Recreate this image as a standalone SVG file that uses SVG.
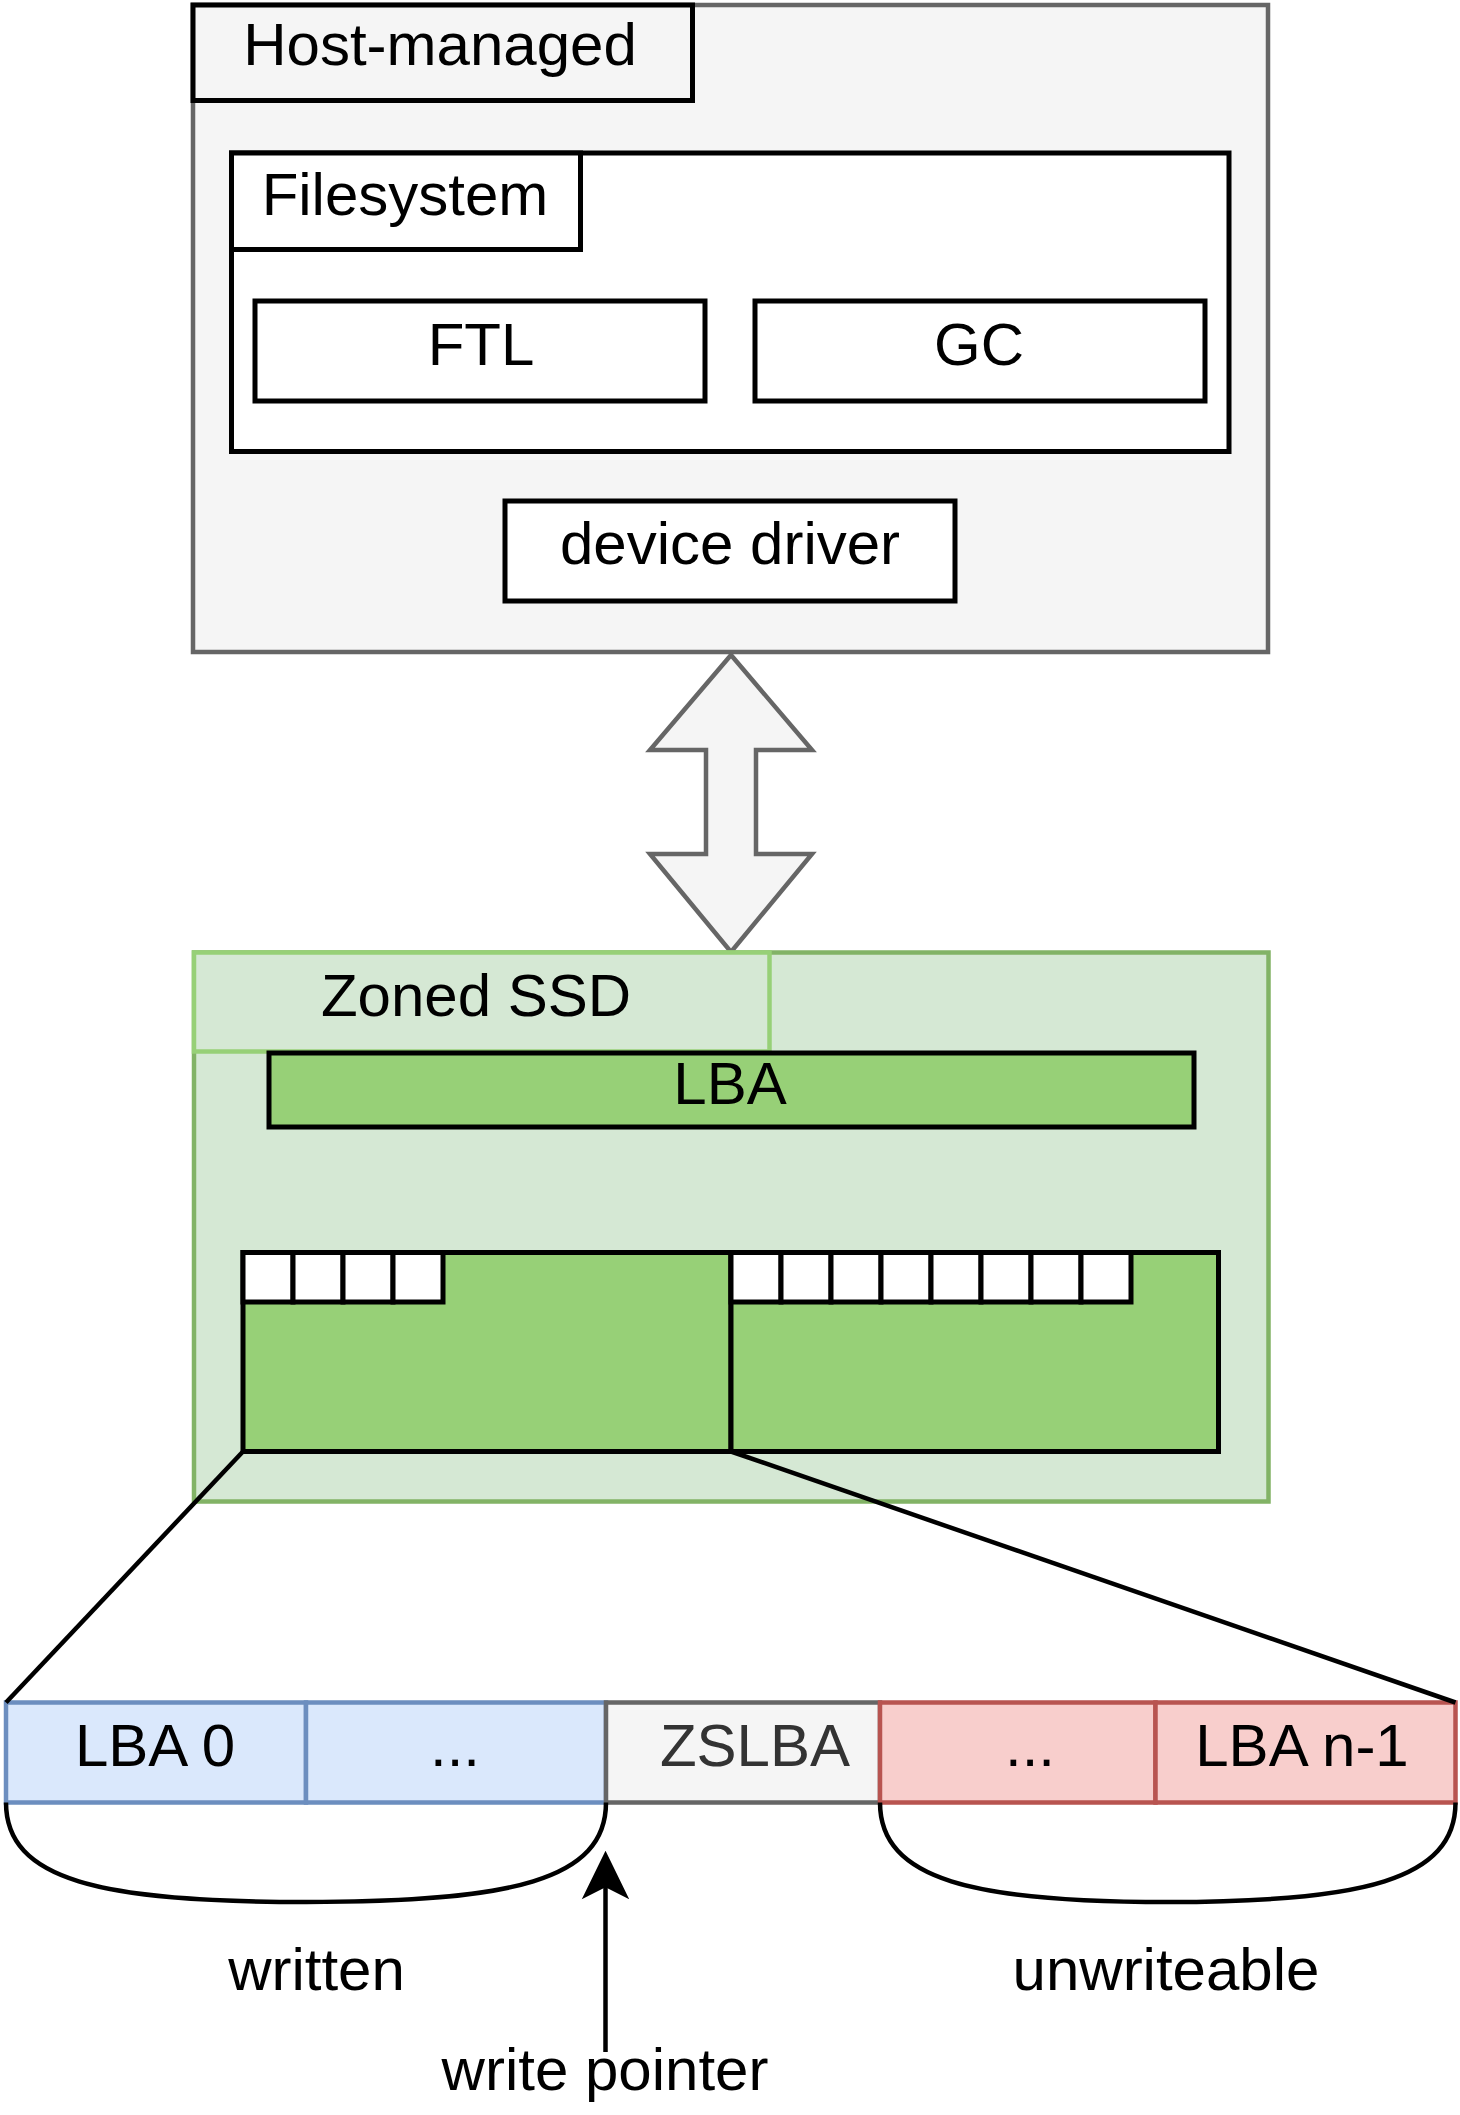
<svg xmlns="http://www.w3.org/2000/svg" width="1460" height="2115" viewBox="0 0 1460 2115">
<style>
text{font-family:"Liberation Sans",Arial,Helvetica,sans-serif;font-size:60px;fill:#000;text-anchor:middle}
.blk{stroke:#000;stroke-width:5}
.w{fill:#fff}
.gry{fill:#f5f5f5;stroke:#666;stroke-width:4.5}
.grn{fill:#97d077}
.ln{fill:none;stroke:#000;stroke-width:4.5}
</style>
<rect width="1460" height="2115" fill="#fff"/>
<g id="host">
<rect class="gry" x="193" y="5" width="1075" height="647"/>
</g>
<g id="host-title">
<rect class="blk" fill="#f5f5f5" x="193" y="5" width="499.5" height="95.5"/>
<text x="440" y="65">Host-managed</text>
</g>
<g id="filesystem">
<rect class="blk w" x="231.5" y="153" width="997.5" height="298.5"/>
</g>
<g id="filesystem-title">
<rect class="blk w" x="231.5" y="153" width="349" height="96.5"/>
<text x="405" y="215">Filesystem</text>
</g>
<g id="ftl">
<rect class="blk w" x="255" y="301" width="450" height="100"/>
<text x="481" y="364.5">FTL</text>
</g>
<g id="gc">
<rect class="blk w" x="755" y="301" width="450" height="100"/>
<text x="979" y="364.5">GC</text>
</g>
<g id="device-driver">
<rect class="blk w" x="505" y="501" width="450" height="100"/>
<text x="730" y="564">device driver</text>
</g>
<g id="interface-arrow">
<path class="gry" stroke-linejoin="miter" d="M731,655 L812,750 L756,750 L756,854 L812,854 L731,952 L650,854 L706,854 L706,750 L650,750 Z"/>
</g>
<g id="zoned-ssd">
<rect fill="#d5e8d4" stroke="#82b366" stroke-width="4.5" x="194" y="952.5" width="1074.5" height="549"/>
</g>
<g id="zoned-ssd-title">
<rect fill="#d5e8d4" stroke="#97d077" stroke-width="4.5" x="194" y="952.5" width="575.5" height="99"/>
<text x="476" y="1016">Zoned SSD</text>
</g>
<g id="lba-bar">
<rect class="blk grn" x="269" y="1053" width="925" height="74"/>
<text x="730" y="1104">LBA</text>
</g>
<g id="zone-1">
<rect class="blk grn" x="243" y="1252.5" width="488" height="199"/>
<rect class="blk w" x="243" y="1252.5" width="50" height="49.5"/>
<rect class="blk w" x="293" y="1252.5" width="50" height="49.5"/>
<rect class="blk w" x="343" y="1252.5" width="50" height="49.5"/>
<rect class="blk w" x="393" y="1252.5" width="50" height="49.5"/>
</g>
<g id="zone-2">
<rect class="blk grn" x="731" y="1252.5" width="487.5" height="199"/>
<rect class="blk w" x="731" y="1252.5" width="50" height="49.5"/>
<rect class="blk w" x="781" y="1252.5" width="50" height="49.5"/>
<rect class="blk w" x="831" y="1252.5" width="50" height="49.5"/>
<rect class="blk w" x="881" y="1252.5" width="50" height="49.5"/>
<rect class="blk w" x="931" y="1252.5" width="50" height="49.5"/>
<rect class="blk w" x="981" y="1252.5" width="50" height="49.5"/>
<rect class="blk w" x="1031" y="1252.5" width="50" height="49.5"/>
<rect class="blk w" x="1081" y="1252.5" width="50" height="49.5"/>
</g>
<g id="lba-0">
<rect fill="#dae8fc" stroke="#6c8ebf" stroke-width="4.5" x="6" y="1702.5" width="300" height="100"/>
<text x="155" y="1766">LBA 0</text>
</g>
<g id="lba-written-dots">
<rect fill="#dae8fc" stroke="#6c8ebf" stroke-width="4.5" x="306" y="1702.5" width="300" height="100"/>
<text x="455" y="1766">...</text>
</g>
<g id="zslba">
<rect fill="#f5f5f5" stroke="#666" stroke-width="4.5" x="606" y="1702.5" width="274" height="100"/>
<text x="755" y="1766" style="fill:#333">ZSLBA</text>
</g>
<g id="lba-unwritten-dots">
<rect fill="#f8cecc" stroke="#b85450" stroke-width="4.5" x="880" y="1702.5" width="275.5" height="100"/>
<text x="1030" y="1766">...</text>
</g>
<g id="lba-n-1">
<rect fill="#f8cecc" stroke="#b85450" stroke-width="4.5" x="1155.5" y="1702.5" width="300" height="100"/>
<text x="1302" y="1766">LBA n-1</text>
</g>
<g id="connectors">
<path class="ln" d="M243,1451.5 L6,1702.5"/>
<path class="ln" d="M731,1451.5 L1455.5,1702.5"/>
<path class="ln" d="M6,1802.5 C6,1880 100,1902 306,1902 C512,1902 606,1880 606,1802.5"/>
<path class="ln" d="M880,1802.5 C880,1880 974,1902 1168,1902 C1362,1902 1455.5,1880 1455.5,1802.5"/>
<path class="ln" d="M605.5,2052 L605.5,1884"/>
<path fill="#000" stroke="#000" stroke-width="2" d="M605.5,1853 L627,1897 L605.5,1886 L584,1897 Z"/>
</g>
<g id="labels">
<text x="316.5" y="1990">written</text>
<text x="1166" y="1990">unwriteable</text>
<text x="605" y="2090">write pointer</text>
</g>
</svg>
